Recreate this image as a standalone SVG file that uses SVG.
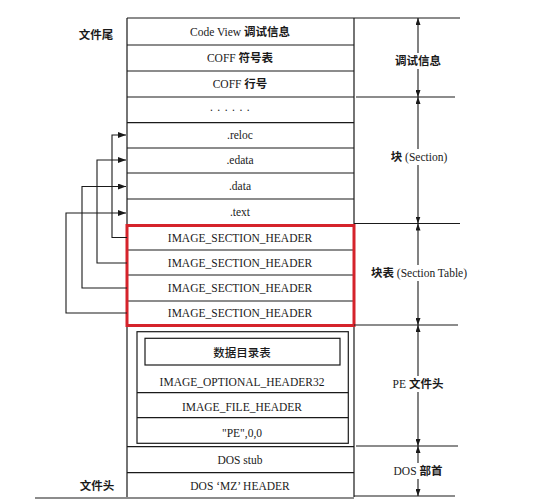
<svg xmlns="http://www.w3.org/2000/svg" width="533" height="500" viewBox="0 0 533 500">
<style>
  .ln{stroke:#1a1a1a;stroke-width:1.2;fill:none}
  .t{font-family:"Liberation Serif","Noto Sans CJK SC",serif;font-size:11.5px;fill:#1a1a1a;text-anchor:middle}
  .zh{font-family:"Noto Sans CJK SC",sans-serif;font-weight:700;font-size:11.5px}
  .zhm{font-family:"Noto Sans CJK SC",sans-serif;font-weight:500;font-size:11.5px}
  .red{stroke:#d5232b;stroke-width:3;fill:none}
  .ar{stroke:#1a1a1a;stroke-width:1.1;fill:none}
</style>
<defs>
  <marker id="ah" viewBox="0 0 8 6" refX="8" refY="3" markerWidth="8" markerHeight="6" markerUnits="userSpaceOnUse" orient="auto-start-reverse">
    <path d="M0,0 L8,3 L0,6 Z" fill="#1a1a1a"/>
  </marker>
  <marker id="as" viewBox="0 0 7 5" refX="7" refY="2.5" markerWidth="7" markerHeight="5" markerUnits="userSpaceOnUse" orient="auto-start-reverse">
    <path d="M0,0 L7,2.5 L0,5 Z" fill="#1a1a1a"/>
  </marker>
</defs>
<rect width="533" height="500" fill="#ffffff"/>

<!-- side labels -->
<text class="t" x="96" y="39"><tspan class="zh">文件尾</tspan></text>
<text class="t" x="97" y="490"><tspan class="zh">文件头</tspan></text>

<!-- main box frame -->
<g id="frame">
  <path class="ln" d="M127,18 V497 M354,18 V497"/>
  <path class="ln" d="M127,18 H460"/>
  <path class="ln" d="M35,498 H354"/>
</g>

<g id="n-codeview">
  <text class="t" x="240" y="36">Code View <tspan class="zh">调试信息</tspan></text>
  <path class="ln" d="M127,45 H354"/>
</g>
<g id="n-coff-sym">
  <text class="t" x="240" y="62">COFF <tspan class="zh">符号表</tspan></text>
  <path class="ln" d="M127,71 H354"/>
</g>
<g id="n-coff-line">
  <text class="t" x="240" y="88">COFF <tspan class="zh">行号</tspan></text>
  <path class="ln" d="M127,97 H354"/>
</g>
<g id="n-dots">
  <text class="t" x="232" y="110.5" style="letter-spacing:4.5px">......</text>
  <path class="ln" d="M127,122.7 H354"/>
</g>
<g id="n-reloc">
  <text class="t" x="240" y="139">.reloc</text>
  <path class="ln" d="M127,148 H354"/>
</g>
<g id="n-edata">
  <text class="t" x="240" y="164">.edata</text>
  <path class="ln" d="M127,173 H354"/>
</g>
<g id="n-data">
  <text class="t" x="240" y="190">.data</text>
  <path class="ln" d="M127,199 H354"/>
</g>
<g id="n-text">
  <text class="t" x="240" y="215.5">.text</text>
</g>

<g id="n-section-table">
  <path class="ln" d="M127,250 H354 M127,275 H354 M127,301 H354"/>
  <text class="t" x="240" y="242">IMAGE_SECTION_HEADER</text>
  <text class="t" x="240" y="266.5">IMAGE_SECTION_HEADER</text>
  <text class="t" x="240" y="292">IMAGE_SECTION_HEADER</text>
  <text class="t" x="240" y="317">IMAGE_SECTION_HEADER</text>
  <rect class="red" x="127" y="225.5" width="227" height="100"/>
</g>

<g id="n-pe-header">
  <rect class="ln" x="137" y="331.7" width="211.3" height="111.6"/>
  <rect class="ln" x="145" y="338.3" width="195" height="26.7"/>
  <text class="t" x="242" y="357"><tspan class="zhm">数据目录表</tspan></text>
  <text class="t" x="242" y="385.5">IMAGE_OPTIONAL_HEADER32</text>
  <path class="ln" d="M137,392.7 H348.3"/>
  <text class="t" x="242" y="410.5">IMAGE_FILE_HEADER</text>
  <path class="ln" d="M137,417.7 H348.3"/>
  <text class="t" x="242" y="437">"PE",0,0</text>
</g>

<g id="n-dos-stub">
  <path class="ln" d="M127,446.7 H354"/>
  <text class="t" x="240" y="464">DOS stub</text>
</g>
<g id="n-dos-mz">
  <path class="ln" d="M127,472.7 H354"/>
  <text class="t" x="240" y="489.5">DOS ‘MZ’ HEADER</text>
</g>

<!-- connectors -->
<g id="connectors">
  <path class="ar" d="M127,237.5 H112 V135 H126" marker-end="url(#ah)"/>
  <path class="ar" d="M127,263 H97 V160 H126" marker-end="url(#ah)"/>
  <path class="ar" d="M127,288 H82 V186.5 H126" marker-end="url(#ah)"/>
  <path class="ar" d="M127,313 H66 V213 H126" marker-end="url(#ah)"/>
</g>

<!-- right dimension lines -->
<g id="dims">
  <path class="ln" d="M356,97 H455 M354,223.5 H460 M354,325 H458 M356,446 H458 M354,496 H455"/>
  <path class="ar" d="M418,18 V53" marker-start="url(#as)"/>
  <path class="ar" d="M418,69 V97" marker-end="url(#as)"/>
  <path class="ar" d="M418,97 V149" marker-start="url(#as)"/>
  <path class="ar" d="M418,165 V223.5" marker-end="url(#as)"/>
  <path class="ar" d="M418,223.5 V265" marker-start="url(#as)"/>
  <path class="ar" d="M418,281 V325" marker-end="url(#as)"/>
  <path class="ar" d="M418,325 V376" marker-start="url(#as)"/>
  <path class="ar" d="M418,392 V446" marker-end="url(#as)"/>
  <path class="ar" d="M418,446 V463" marker-start="url(#as)"/>
  <path class="ar" d="M418,479 V496" marker-end="url(#as)"/>
</g>
<g id="dim-labels">
  <text class="t" x="418" y="65"><tspan class="zh">调试信息</tspan></text>
  <text class="t" x="419" y="161"><tspan class="zh">块</tspan> (Section)</text>
  <text class="t" x="419" y="277"><tspan class="zh">块表</tspan> (Section Table)</text>
  <text class="t" x="418" y="388">PE <tspan class="zh">文件头</tspan></text>
  <text class="t" x="418" y="475">DOS <tspan class="zh">部首</tspan></text>
</g>
</svg>
